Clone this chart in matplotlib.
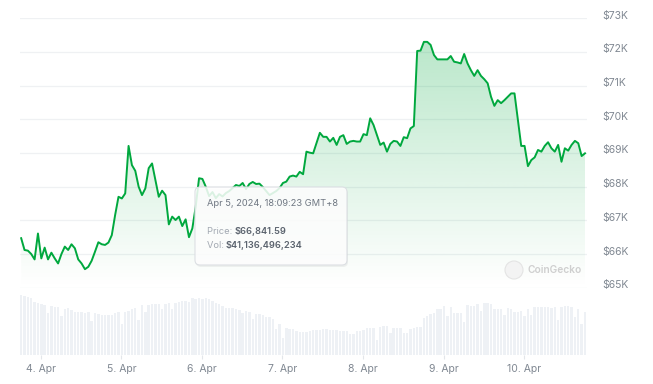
import numpy as np
import pandas as pd
import matplotlib
matplotlib.use('Agg')
import matplotlib.pyplot as plt
import matplotlib.dates as mdates
from matplotlib.colors import to_rgb
from matplotlib.patches import FancyBboxPatch, Circle
from matplotlib.ticker import FuncFormatter
from matplotlib.transforms import IdentityTransform, ScaledTranslation

plt.rcParams['font.family'] = ['Inter', 'DejaVu Sans']

# hourly BTC price, thousands of USD
prices = [
    66.47, 66.12, 66.10, 66.00, 65.84, 66.61, 65.87, 66.19, 65.84, 66.04,
    65.87, 65.72, 66.00, 66.22, 66.12, 66.29, 66.17, 65.84, 65.72, 65.55,
    65.62, 65.80, 66.07, 66.35, 66.29, 66.27, 66.34, 66.56, 67.16, 67.70,
    67.65, 67.80, 69.21, 68.64, 68.47, 68.00, 67.75, 67.95, 68.55, 68.69,
    68.20, 67.70, 67.88, 67.75, 66.88, 67.11, 67.01, 67.11, 66.83, 67.03,
    66.50, 66.76, 67.40, 68.25, 68.23, 68.00, 67.72, 67.84, 67.66, 67.78,
    67.71, 67.81, 67.87, 67.96, 68.05, 68.02, 68.11, 67.93, 68.08, 68.14,
    68.08, 68.09, 67.99, 67.87, 67.75, 67.81, 67.87, 67.96, 68.11, 68.15,
    68.30, 68.33, 68.30, 68.44, 68.37, 69.04, 69.01, 68.99, 69.29, 69.60,
    69.48, 69.48, 69.34, 69.45, 69.24, 69.48, 69.53, 69.27, 69.34, 69.36,
    69.34, 69.34, 69.56, 69.53, 70.03, 69.83, 69.53, 69.24, 69.31, 69.04,
    69.27, 69.36, 69.34, 69.21, 69.47, 69.44, 69.73, 69.80, 72.03, 72.04,
    72.30, 72.30, 72.21, 71.91, 71.78, 71.78, 71.78, 71.78, 71.88, 71.71,
    71.69, 71.66, 71.94, 71.66, 71.46, 71.29, 71.46, 71.29, 71.19, 71.07,
    70.67, 70.40, 70.57, 70.48, 70.57, 70.67, 70.77, 70.77, 69.98, 69.21,
    69.21, 68.61, 68.79, 68.87, 69.09, 69.04, 69.21, 69.32, 69.14, 69.04,
    69.24, 68.74, 69.14, 69.07, 69.24, 69.36, 69.29, 68.91, 68.99,
]

# 24h volume, billions of USD
volumes = [
    46.3, 45.5, 45.0, 43.7, 41.1, 39.8, 39.1, 38.6, 32.1, 37.8,
    37.3, 36.8, 30.1, 35.2, 36.0, 34.7, 33.2, 33.2, 33.2, 32.6,
    32.9, 26.5, 32.1, 31.6, 31.1, 30.8, 30.8, 30.6, 32.1, 33.2,
    23.6, 33.2, 34.2, 35.5, 36.0, 27.0, 38.3, 33.4, 38.3, 39.1,
    39.1, 39.1, 35.2, 39.1, 39.8, 35.7, 40.3, 41.1, 41.6, 41.9,
    41.1, 43.7, 43.4, 44.2, 43.2, 43.7, 42.9, 41.6, 40.3, 39.1,
    37.8, 36.5, 36.0, 36.0, 35.2, 34.7, 32.6, 33.9, 32.9, 27.5,
    31.6, 31.6, 30.6, 29.6, 29.0, 27.8, 19.8, 23.9, 12.9, 21.1,
    19.8, 19.8, 18.8, 18.0, 18.0, 18.0, 18.5, 19.3, 19.3, 19.3,
    19.8, 19.8, 19.3, 19.3, 19.3, 18.8, 18.8, 18.8, 16.2, 16.2,
    18.8, 18.8, 19.3, 20.6, 21.1, 21.1, 11.6, 21.8, 22.4, 22.4,
    17.2, 20.6, 20.6, 20.6, 17.2, 17.2, 20.0, 20.6, 21.8, 21.8,
    28.3, 30.1, 31.6, 32.6, 35.2, 35.2, 37.8, 30.1, 37.3, 32.6,
    32.6, 32.6, 25.7, 38.6, 38.0, 38.0, 39.1, 34.2, 39.8, 39.8,
    39.1, 35.2, 35.2, 35.2, 30.8, 36.0, 35.2, 33.4, 33.4, 34.2,
    30.1, 35.2, 30.8, 36.8, 36.8, 37.3, 37.3, 36.8, 36.0, 36.8,
    27.0, 37.3, 37.8, 37.8, 36.8, 29.0, 35.2, 23.9, 33.4,
]

price_ticks = [65, 66, 67, 68, 69, 70, 71, 72, 73]

start_time = '2024-04-03 18:09:23'
tooltip_date = 'Apr 5, 2024, 18:09:23 GMT+8'
tooltip_price = '$66,841.59'
tooltip_vol = '$41,136,496,234'

times = pd.date_range(start_time, periods=len(prices), freq='h')
t = mdates.date2num(times.to_pydatetime())

W, H = 653, 384
fig = plt.figure(figsize=(W / 100, H / 100), dpi=100)


def px_box(l, top, r, b):
    return [l / W, 1 - b / H, (r - l) / W, (b - top) / H]


ax = fig.add_axes(px_box(20, 18.3, 587, 287.7))
axv = fig.add_axes(px_box(20, 288, 587, 355), sharex=ax)

green = '#00a83e'
grid_c = '#eff1f3'
label_c = '#808892'

# price line + gradient fill
ax.plot(t, prices, color=green, lw=1.4, zorder=3, solid_joinstyle='round')
poly = ax.fill_between(t, prices, 65, color='none', lw=0)
grad = np.zeros((256, 1, 4))
grad[..., :3] = to_rgb(green)
grad[..., 3] = np.linspace(0.30, 0.0, 256)[:, None]
x0, x1 = t[0] - 0.35 / 24, t[-1] + 0.6 / 24
im = ax.imshow(grad, extent=[x0, x1, 65, 73], aspect='auto', origin='upper', zorder=1)
im.set_clip_path(poly.get_paths()[0], transform=ax.transData)

ax.set_xlim(x0, x1)
ax.set_ylim(65, 73)
ax.set_yticks(price_ticks)
ax.set_yticklabels([f'${v}K' for v in price_ticks])
ax.yaxis.tick_right()
ax.yaxis.grid(True, color=grid_c, lw=0.9)
ax.set_axisbelow(True)
ax.tick_params(axis='y', length=0, pad=11, labelsize=7.5, labelcolor=label_c)
ax.tick_params(axis='x', length=0, labelbottom=False)
# labels sit a little above their grid lines
shift = ScaledTranslation(0, 3.5 / 100, fig.dpi_scale_trans)
for lab in ax.get_yticklabels():
    lab.set_transform(lab.get_transform() + shift)
for s in ax.spines.values():
    s.set_visible(False)

# volume bars
axv.bar(t, volumes, width=0.72 / 24, color='#eef1f5', lw=0)
axv.set_ylim(0, 51.7)
axv.set_yticks([])
for s in axv.spines.values():
    s.set_visible(False)
axv.xaxis.set_major_locator(mdates.DayLocator())
axv.xaxis.set_major_formatter(FuncFormatter(
    lambda v, p: f'{mdates.num2date(v).day}. {mdates.num2date(v):%b}'))
axv.tick_params(axis='x', length=3, color='#e3e6ea', pad=3.5, labelsize=7.5, labelcolor=label_c)

# watermark
fig.add_artist(Circle((514, H - 270), 9, transform=IdentityTransform(),
                      fc='#f3f3f3', ec='#e4e4e4', lw=0.8, zorder=5))
fig.text(527 / W, 1 - 270 / H, 'CoinGecko', fontsize=7.3, color='#cfcfcf',
         fontweight='semibold', va='center', zorder=6)

# tooltip
fig.add_artist(FancyBboxPatch((196, H - 267), 152, 78,
                              boxstyle='round,pad=0,rounding_size=5',
                              transform=IdentityTransform(),
                              fc=(0, 0, 0, 0.05), lw=0, zorder=9))
fig.add_artist(FancyBboxPatch((195, H - 265), 152, 78,
                              boxstyle='round,pad=0,rounding_size=5',
                              transform=IdentityTransform(),
                              fc=(1, 1, 1, 0.86), ec='#dcdfe3', lw=0.8, zorder=10))
tx = 206.5 / W
fs = 6.7
fig.text(tx, 1 - 204 / H, tooltip_date, fontsize=fs, color='#6f7782', va='center', zorder=11)
lab1 = fig.text(tx, 1 - 231 / H, 'Price: ', fontsize=fs, color='#a3a9b2', va='center', zorder=11)
lab2 = fig.text(tx, 1 - 246 / H, 'Vol: ', fontsize=fs, color='#a3a9b2', va='center', zorder=11)
fig.canvas.draw()
r = fig.canvas.get_renderer()
for lab, val, y in [(lab1, tooltip_price, 231), (lab2, tooltip_vol, 246)]:
    bb = lab.get_window_extent(r)
    fig.text(bb.x1 / W, 1 - y / H, val, fontsize=fs, color='#5b636e',
             fontweight='semibold', va='center', zorder=11)

fig.savefig('out.png', dpi=100)
